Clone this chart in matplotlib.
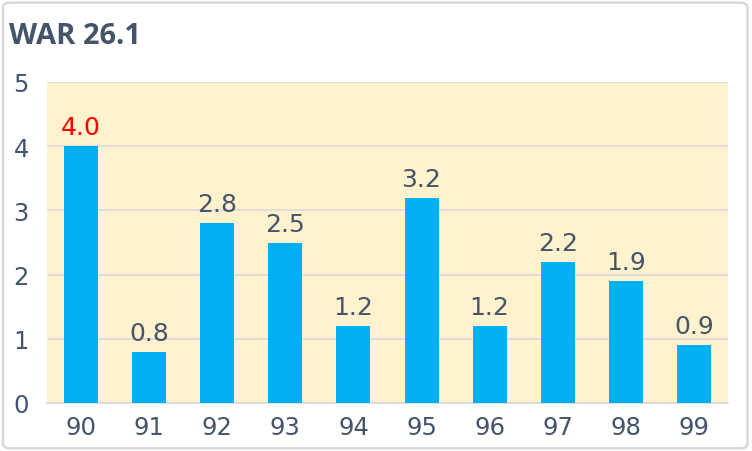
import matplotlib
matplotlib.use("Agg")
import matplotlib.pyplot as plt
from matplotlib.patches import FancyBboxPatch

# data
seasons = ["90", "91", "92", "93", "94", "95", "96", "97", "98", "99"]
war = [4.0, 0.8, 2.8, 2.5, 1.2, 3.2, 1.2, 2.2, 1.9, 0.9]
label_colors = ["#FF0000"] + ["#44546A"] * 9
title = "WAR 26.1"

plt.rcParams['font.family'] = ['DejaVu Sans']
text_col = "#44546A"

fig = plt.figure(figsize=(7.52, 4.52), dpi=100)
border = FancyBboxPatch((0.004, 0.006), 0.990, 0.986,
                        boxstyle="round,pad=0,rounding_size=0.01",
                        transform=fig.transFigure, facecolor="white",
                        edgecolor="#D9D9D9", linewidth=1.8, zorder=-1)
fig.patches.append(border)
ax = fig.add_axes([47 / 752, 1 - 404 / 452, 681 / 752, 321 / 452])
ax.set_facecolor("#FFF2CC")

x = range(len(seasons))
ax.bar(x, war, width=0.5, color="#00B0F0", zorder=3)
for i, v in enumerate(war):
    ax.annotate(f"{v:.1f}", (i, v), xytext=(0, 5), textcoords="offset points",
                ha="center", va="bottom", fontsize=18, color=label_colors[i])

ax.set_xlim(-0.5, len(seasons) - 0.5)
ax.set_ylim(0, 5)
ax.set_yticks(range(6))
ax.set_xticks(list(x))
ax.set_xticklabels(seasons)
ax.tick_params(axis="both", length=0, labelsize=17.5, colors=text_col)
ax.tick_params(axis="x", pad=9)
ax.tick_params(axis="y", pad=13)
ax.grid(axis="y", color="#D9D9D9", linewidth=1.2, zorder=1)
for s in ["top", "right", "left"]:
    ax.spines[s].set_visible(False)
ax.spines["bottom"].set_color("#D9D9D9")
ax.spines["bottom"].set_linewidth(1.2)

fig.text(9 / 752, 1 - 36 / 452, title, fontsize=21, fontweight="bold",
         family=['Open Sans', 'DejaVu Sans'],
         color=text_col, va="center", ha="left")

fig.savefig("out.png", dpi=100)
